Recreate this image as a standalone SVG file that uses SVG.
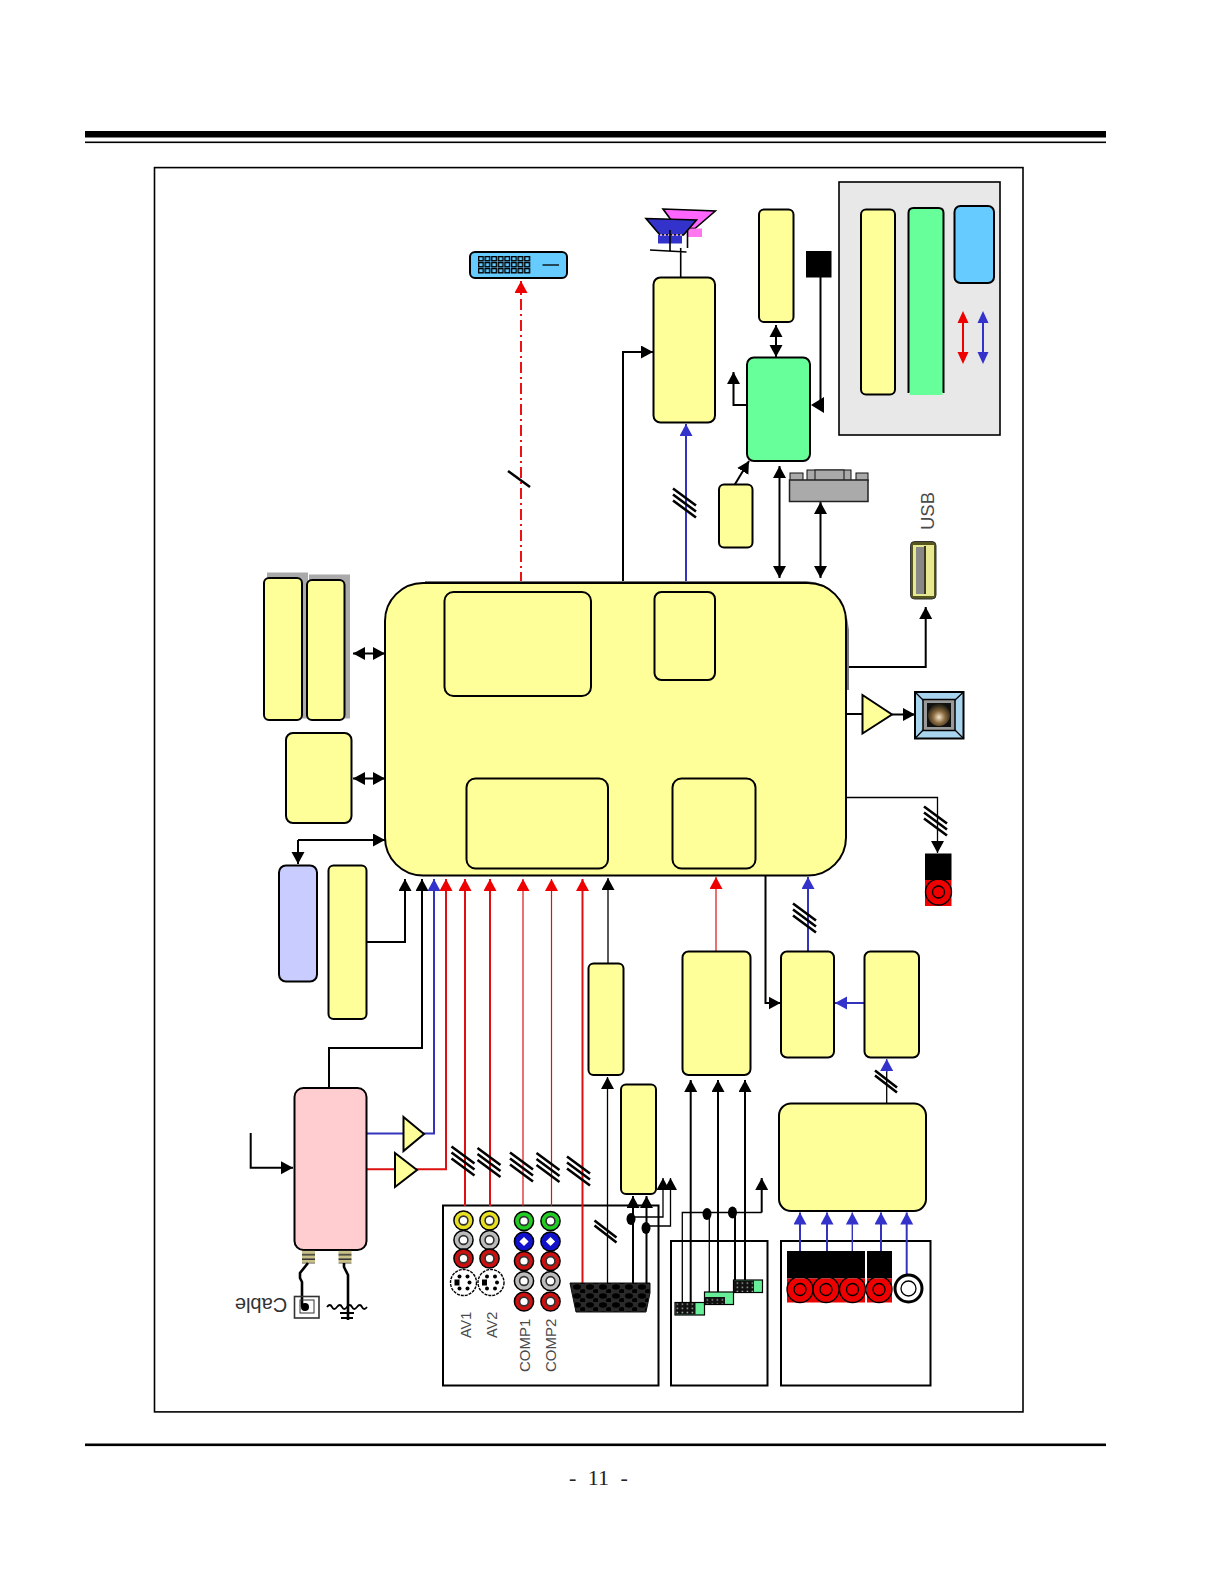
<svg xmlns="http://www.w3.org/2000/svg" width="1224" height="1584" viewBox="0 0 1224 1584">
<style>
.b{stroke:#000;stroke-width:2;}
.y{fill:#ffff99;stroke:#000;stroke-width:2;}
.g{fill:#66ff99;stroke:#000;stroke-width:2;}
.c{fill:none;stroke:#000;stroke-width:2;}
.t{fill:none;stroke:#000;stroke-width:1.3;}
.bl{fill:none;stroke:#3333bb;stroke-width:2;}
.r{fill:none;stroke:#dd1111;stroke-width:2;}
.rt{fill:none;stroke:#dd1111;stroke-width:1.2;}
.s{fill:none;stroke:#000;stroke-width:2.6;}
.box{fill:#fff;stroke:#000;stroke-width:2;}
.a{font-family:"Liberation Sans",Arial,sans-serif;fill:#4a4a4a;}
.ah{marker-end:url(#k);}
.ab{marker-end:url(#kb);}
.ar{marker-end:url(#kr);}
.dk{marker-start:url(#ks);marker-end:url(#k);}
</style>
<defs>
<marker id="k" markerUnits="userSpaceOnUse" markerWidth="14" markerHeight="14" refX="12" refY="6.5" orient="auto"><path d="M0 0L12 6.5L0 13Z" fill="#000"/></marker>
<marker id="ks" markerUnits="userSpaceOnUse" markerWidth="14" markerHeight="14" refX="0" refY="6.5" orient="auto"><path d="M12 0L0 6.5L12 13Z" fill="#000"/></marker>
<marker id="kb" markerUnits="userSpaceOnUse" markerWidth="14" markerHeight="14" refX="12" refY="6.5" orient="auto"><path d="M0 0L12 6.5L0 13Z" fill="#3333cc"/></marker>
<marker id="kr" markerUnits="userSpaceOnUse" markerWidth="14" markerHeight="14" refX="12" refY="6.5" orient="auto"><path d="M0 0L12 6.5L0 13Z" fill="#ee0000"/></marker>
<pattern id="pins" width="6.6" height="6" patternUnits="userSpaceOnUse" x="478" y="256"><rect x="0.6" y="0.6" width="4.6" height="4.2" fill="#66ccff" stroke="#000" stroke-width="1.4"/></pattern>
<pattern id="gpins" width="5" height="4.2" patternUnits="userSpaceOnUse"><rect width="5" height="4.2" fill="#111"/><rect x="1.6" y="1.4" width="1.6" height="1.4" fill="#9a9"/></pattern>
<pattern id="holes" width="13" height="9" patternUnits="userSpaceOnUse" x="572" y="1284"><rect width="13" height="9" fill="#2a2a2a"/><ellipse cx="5" cy="3" rx="4" ry="2.8" fill="#000"/><ellipse cx="11" cy="7.5" rx="3" ry="2.4" fill="#000"/></pattern>
<pattern id="coil" width="13" height="4.5" patternUnits="userSpaceOnUse"><rect width="13" height="4.5" fill="#c8c088"/><rect y="3" width="13" height="1.5" fill="#333"/></pattern>
<radialGradient id="ball" cx="0.5" cy="0.6" r="0.55"><stop offset="0" stop-color="#f5e8cc"/><stop offset="0.5" stop-color="#8a6a40"/><stop offset="1" stop-color="#2a2416"/></radialGradient>
<g id="slash3"><path class="s" d="M-12 -14L11 3M-12 -8L11 9M-12 -2L11 15" transform="translate(0 -.5)"/></g>
<g id="slash2"><path class="s" d="M-11 -11L11 6M-11 -6L11 11"/></g>
<g id="jackY"><circle r="9.6" fill="#e8e020" stroke="#000" stroke-width="1.5"/><circle r="4.4" fill="#fff" stroke="#333" stroke-width="1.6"/></g>
<g id="jackW"><circle r="9.6" fill="#bbb" stroke="#000" stroke-width="1.5"/><circle r="4.4" fill="#fff" stroke="#333" stroke-width="1.6"/></g>
<g id="jackR"><circle r="9.6" fill="#cc1111" stroke="#000" stroke-width="1.5"/><circle r="4.4" fill="#fff" stroke="#333" stroke-width="1.6"/></g>
<g id="jackG"><circle r="9.6" fill="#22cc22" stroke="#000" stroke-width="1.5"/><circle r="4.4" fill="#fff" stroke="#333" stroke-width="1.6"/></g>
<g id="jackB"><circle r="9.6" fill="#1111cc" stroke="#000" stroke-width="1.5"/><path d="M0 -4.6L4.6 0L0 4.6L-4.6 0Z" fill="#fff"/></g>
<g id="din"><circle r="13" fill="#fff" stroke="#000" stroke-width="1.4" stroke-dasharray="3 1"/><circle cx="-4" cy="-6" r="2" fill="#000"/><circle cx="4" cy="-6" r="2" fill="#000"/><circle cx="-4" cy="6" r="2" fill="#000"/><circle cx="4" cy="6" r="2" fill="#000"/><circle cx="6" cy="0" r="2" fill="#000"/><rect x="-9" y="-3" width="5" height="6" fill="#000"/></g>
<g id="rca"><circle r="13" fill="none" stroke="#000" stroke-width="1.3"/><circle r="6" fill="none" stroke="#000" stroke-width="1.3"/></g>
</defs>

<g id="page">
<rect width="1224" height="1584" fill="#fff"/>
<rect x="85" y="131" width="1021" height="6.5" fill="#000"/>
<rect x="85" y="141.5" width="1021" height="1.6" fill="#000"/>
<rect x="85" y="1443.5" width="1021" height="2.6" fill="#000"/>
<rect x="154.5" y="167.6" width="868.5" height="1244.3" fill="#fff" stroke="#000" stroke-width="1.6"/>
<text x="569" y="1485" font-family="'Liberation Serif',serif" font-size="22" word-spacing="6" fill="#222">- 11 -</text>
</g>

<g id="legend-panel">
<rect x="839" y="182" width="161" height="253" fill="#e8e8e8" stroke="#000" stroke-width="1.6"/>
<rect class="y" x="861" y="209.500" width="34" height="185" rx="5"/>
<path d="M908.500 393V213q0-5 5-5h25q5 0 5 5V393" fill="#66ff99" stroke="#000" stroke-width="2"/>
<path d="M909.600 392h32.800v3h-32.800Z" fill="#66ff99"/>
<rect x="954.500" y="206" width="39.500" height="77" rx="6" fill="#66ccff" stroke="#000" stroke-width="2"/>
<path d="M963 322V353" stroke="#ee0000" stroke-width="2" fill="none"/>
<path d="M983 322V353" stroke="#3333cc" stroke-width="2" fill="none"/>
<path d="M963 311L968.500 323H957.500Z M963 364L968.500 352H957.500Z" fill="#ee0000"/>
<path d="M983 311L988.500 323H977.500Z M983 364L988.500 352H977.500Z" fill="#3333cc"/>
</g>

<g id="input-boxes">
<rect class="box" x="443" y="1205.500" width="215.500" height="180"/>
<rect class="box" x="671" y="1241" width="96.500" height="144.500"/>
<rect class="box" x="781" y="1241" width="149.500" height="144.500"/>
</g>

<g id="connectors">
<path class="r" d="M521 583V281" stroke-dasharray="11 4 2 4" style="stroke:#ee1111" marker-end="url(#kr)"/>
<path class="s" d="M508 471L530 487"/>
<path class="c ah" d="M623 582V352H653"/>
<path class="bl ab" d="M686 582V424"/>
<use href="#slash3" x="685" y="503"/>
<path class="b dk" fill="none" d="M776 325V357"/>
<path class="c ah" d="M747 405H733.500V372"/>
<path class="c" d="M820.500 277V400"/>
<path d="M811 405L824 397V413Z" fill="#000"/>
<path class="c ah" d="M734.500 485L749 461"/>
<path class="c dk" d="M779.500 466V578"/>
<path class="c dk" d="M820.500 502V578"/>
<path class="c ah" d="M847 667H925.700V607"/>
<path class="c" d="M847 714H862"/>
<path class="c ah" d="M892 714.500H915"/>
<path class="t ah" d="M847 797.500H937.500V853"/>
<use href="#slash3" x="936" y="821"/>
<path class="c dk" d="M353 653.500H385"/>
<path class="c dk" d="M353 778.500H385"/>
<path class="c ah" d="M298 840H385"/>
<path class="c ah" d="M298 840V864"/>
<path class="c ah" d="M367 942H405V879"/>
<path class="c ah" d="M329 1088V1048H422V879"/>
<path class="bl ab" d="M367 1133.500H434V879"/>
<path class="r" d="M367 1169.300H446V879" marker-end="url(#kr)"/>
<path class="r" d="M465 1206V879" marker-end="url(#kr)"/>
<path class="r" d="M490 1206V879" marker-end="url(#kr)"/>
<path class="rt" d="M523 1206V879" marker-end="url(#kr)"/>
<path class="rt" d="M551.500 1206V879" marker-end="url(#kr)"/>
<path class="r" d="M582.500 1283V879" marker-end="url(#kr)"/>
<use href="#slash3" x="463.500" y="1161"/>
<use href="#slash3" x="489.500" y="1162.500"/>
<use href="#slash3" x="522" y="1167"/>
<use href="#slash3" x="548.500" y="1167.500"/>
<use href="#slash3" x="579" y="1171"/>
<path class="t ah" d="M608 963V878"/>
<path class="t ah" d="M607.500 1283V1077"/>
<use href="#slash2" x="605.500" y="1231.500"/>
<path class="c ah" d="M633 1283V1196"/>
<path class="c ah" d="M646.500 1283V1196"/>
<path class="t ah" d="M631 1217H663V1178"/>
<path class="t ah" d="M646 1226H670.500V1178"/>
<ellipse cx="631" cy="1219" rx="4.500" ry="6"/>
<ellipse cx="646" cy="1228" rx="4.500" ry="6"/>
<path class="c ah" d="M690.700 1303V1080"/>
<path class="c ah" d="M718 1292V1080"/>
<path class="c ah" d="M745 1280V1080"/>
<path class="t" d="M682.300 1303V1212.500H761.700"/>
<path class="c ah" d="M761.700 1212.500V1178"/>
<path class="t" d="M709.300 1292V1214"/>
<path class="c" d="M735 1280V1214"/>
<ellipse cx="707" cy="1214" rx="4.500" ry="6"/>
<ellipse cx="732.500" cy="1212.500" rx="4.500" ry="6"/>
<path class="rt" d="M716 951V877" marker-end="url(#kr)"/>
<path class="c ah" d="M765.500 876V1003H780.500"/>
<path class="bl ab" d="M808 951V877"/>
<use href="#slash3" x="805" y="918"/>
<path class="bl ab" d="M864.500 1003H835"/>
<path class="t" d="M886.700 1103V1070"/>
<path class="bl ab" d="M886.700 1072V1059" style="stroke-width:1.3"/>
<use href="#slash2" x="886" y="1081.500"/>
<path class="bl ab" d="M800 1252V1212.500"/>
<path class="bl ab" d="M827 1252V1212.500"/>
<path class="bl ab" d="M852.300 1252V1212.500" style="stroke-width:1.4"/>
<path class="bl ab" d="M881 1252V1212.500"/>
<path class="bl ab" d="M906.700 1275V1212.500"/>
<path class="c" d="M250.700 1133V1167.700H293" marker-end="url(#k)"/>
</g>

<g id="main-chip">
<path d="M425 581H806Q844 583 849 630V690H845V625Q840 590 800 584H425Z" fill="#777"/>
<rect class="y" x="385" y="583" width="461" height="292.500" rx="38"/>
<rect class="y" x="444.500" y="592" width="146.500" height="104" rx="9"/>
<rect class="y" x="654.500" y="592" width="60.500" height="88" rx="7"/>
<rect class="y" x="466.500" y="778.500" width="141.500" height="90" rx="9"/>
<rect class="y" x="672.500" y="778.500" width="83" height="90" rx="9"/>
</g>

<g id="memory">
<rect x="267" y="572.500" width="41" height="146" fill="#aaa"/>
<rect class="y" x="264" y="578" width="38" height="142" rx="5"/>
<rect x="309" y="574.500" width="41" height="144" fill="#aaa"/>
<rect class="y" x="307" y="580" width="37.500" height="140" rx="5"/>
<rect class="y" x="286" y="733" width="65.500" height="90" rx="7"/>
</g>

<g id="left-blocks">
<rect x="279" y="865.500" width="38" height="116" rx="7" fill="#c8ccff" stroke="#000" stroke-width="2"/>
<rect class="y" x="328.500" y="865.500" width="38" height="153.500" rx="5"/>
</g>

<g id="tuner">
<rect x="294.500" y="1088" width="72" height="162" rx="9" fill="#ffccd0" stroke="#000" stroke-width="2"/>
<rect x="302" y="1250.500" width="13" height="13" fill="url(#coil)"/>
<rect x="338.500" y="1250.500" width="13" height="13" fill="url(#coil)"/>
<path class="s" d="M308 1263L300 1273V1278L302 1282V1307M344 1263V1267L348 1275V1320"/>
<rect x="294.500" y="1296.500" width="24.500" height="21.500" fill="none" stroke="#333" stroke-width="1.600"/>
<rect x="300" y="1300" width="14" height="13" fill="none" stroke="#333"/>
<circle cx="305" cy="1307" r="4"/>
<path class="t" d="M327 1307q3-4 5 0t5 0t5 0t5 0t5 0t5 0t5 0t5 0" style="stroke-width:1.800"/>
<path class="c" d="M340 1313H354M341 1318H353"/>
<text class="a" transform="rotate(180 261 1306)" x="261" y="1314" text-anchor="middle" font-size="20" style="fill:#333">Cable</text>
</g>

<g id="amps">
<path class="y" d="M403.500 1117L424 1134L403.500 1151Z"/>
<path class="y" d="M395 1153L417 1170L395 1187Z"/>
<path class="y" d="M862.500 695L892 714.500L862.500 733.500Z"/>
</g>

<g id="av-jacks">
<use href="#jackY" x="463.500" y="1220.500"/><use href="#jackW" x="463.500" y="1240"/><use href="#jackR" x="463.500" y="1258.500"/><use href="#din" x="463.500" y="1282.500"/>
<use href="#jackY" x="489.500" y="1220.500"/><use href="#jackW" x="489.500" y="1240"/><use href="#jackR" x="489.500" y="1258.500"/><use href="#din" x="491" y="1282.500"/>
<use href="#jackG" x="524" y="1221"/><use href="#jackB" x="524" y="1241.500"/><use href="#jackR" x="524" y="1261"/><use href="#jackW" x="524" y="1281"/><use href="#jackR" x="524" y="1301.500"/>
<use href="#jackG" x="550.500" y="1221"/><use href="#jackB" x="550.500" y="1241.500"/><use href="#jackR" x="550.500" y="1261"/><use href="#jackW" x="550.500" y="1281"/><use href="#jackR" x="550.500" y="1301.500"/>
<text class="a" transform="rotate(-90 471 1338)" x="471" y="1338" font-size="14.500">AV1</text>
<text class="a" transform="rotate(-90 497 1338)" x="497" y="1338" font-size="14.500">AV2</text>
<text class="a" transform="rotate(-90 529.500 1372)" x="529.500" y="1372" font-size="15">COMP1</text>
<text class="a" transform="rotate(-90 556 1372)" x="556" y="1372" font-size="15">COMP2</text>
</g>

<g id="scart">
<path d="M570 1283H650V1293L646 1312H576L572 1293Z" fill="url(#holes)" stroke="#111"/>
</g>

<g id="sub-blocks">
<rect class="y" x="588.500" y="963.500" width="35" height="111.500" rx="5"/>
<rect class="y" x="621" y="1084.500" width="35" height="109.500" rx="5"/>
<rect class="y" x="682.500" y="951.500" width="68" height="123.500" rx="6"/>
<rect class="y" x="781" y="951.500" width="53" height="106" rx="6"/>
<rect class="y" x="864.500" y="951.500" width="54.500" height="106" rx="6"/>
<rect class="y" x="779" y="1103.500" width="147" height="107.500" rx="12"/>
</g>

<g id="hdmi-ports">
<rect x="675" y="1302.500" width="29.500" height="12.500" fill="#66ee99" stroke="#000" stroke-width="1.200"/>
<rect x="675.500" y="1303" width="20" height="11.500" fill="url(#gpins)"/>
<rect x="704.500" y="1292" width="29" height="12.500" fill="#66ee99" stroke="#000" stroke-width="1.200"/>
<rect x="705" y="1297" width="20" height="7" fill="url(#gpins)"/>
<rect x="733.500" y="1280" width="29" height="12.500" fill="#66ee99" stroke="#000" stroke-width="1.200"/>
<rect x="734" y="1280.500" width="20" height="11.500" fill="url(#gpins)"/>
</g>

<g id="side-jacks">
<rect x="787" y="1251" width="78" height="27.500" fill="#000"/>
<rect x="787" y="1278.500" width="78" height="24" fill="#ee0000"/>
<rect x="867" y="1251" width="25" height="27.500" fill="#000"/>
<rect x="867" y="1278.500" width="25" height="24" fill="#ee0000"/>
<use href="#rca" x="800" y="1289.500"/><use href="#rca" x="826" y="1289.500"/><use href="#rca" x="852.500" y="1289.500"/><use href="#rca" x="879" y="1289.500"/>
<circle cx="908.500" cy="1288.500" r="13.500" fill="#fff" stroke="#000" stroke-width="3"/>
<circle cx="908.500" cy="1288.500" r="7.500" fill="#fff" stroke="#000" stroke-width="1.300"/>
</g>

<g id="spdif">
<rect x="925" y="853.500" width="26.500" height="26.500" fill="#000"/>
<rect x="925" y="880" width="26.500" height="26" fill="#ee0000"/>
<use href="#rca" x="938.500" y="892"/>
</g>

<g id="speaker">
<rect x="915" y="692" width="48.500" height="46.500" fill="#a8d4ee" stroke="#000" stroke-width="2"/>
<path class="t" d="M915 692L925 702M963.500 692L953 702M915 738.500L925 728M963.500 738.500L953 728"/>
<rect x="923" y="699.500" width="32" height="31" fill="#999" stroke="#000" stroke-width="1.500"/>
<rect x="927" y="703" width="24" height="24" fill="#111"/>
<circle cx="939" cy="715" r="11" fill="url(#ball)"/>
</g>

<g id="usb-port">
<rect x="910.500" y="541.500" width="25.500" height="57.500" rx="4" fill="#55551f" stroke="#333" stroke-width="1"/>
<rect x="913" y="545" width="21" height="51" fill="#e8e890"/>
<rect x="916" y="547" width="8" height="47" fill="#888"/>
<path d="M925 546V594" stroke="#000" stroke-width="1.500"/>
<text class="a" transform="rotate(-90 934 530)" x="934" y="530" font-size="18.500">USB</text>
</g>

<g id="dvi-connector">
<rect x="470" y="252" width="97" height="26" rx="5" fill="#66ccff" stroke="#000" stroke-width="2"/>
<rect x="478" y="256" width="52.800" height="18" fill="url(#pins)"/>
<path class="t" d="M542.500 265H559"/>
</g>

<g id="panel-block">
<rect class="y" x="653.500" y="277.500" width="61.500" height="145" rx="7"/>
<path d="M663 209L715.300 211L695 228.500L677 228Z" fill="#ff66ff" stroke="#000" stroke-width="1.600"/>
<rect x="687" y="228.500" width="15" height="8.500" fill="#ff77ee"/>
<path d="M646 218.500L696.500 220L683.500 235H660Z" fill="#3333cc" stroke="#000" stroke-width="1.600"/>
<rect x="658" y="235" width="24" height="8.500" fill="#3333cc"/>
<path d="M660 235H684" stroke="#fcc" stroke-width="1.500" stroke-dasharray="2 2" fill="none"/>
<path class="c" d="M650 250L686.500 252M670 230V252M687.500 230V248M680.700 248V277.500" style="stroke-width:1.600"/>
</g>

<g id="hdmi-switch">
<rect class="y" x="759" y="209.500" width="34.500" height="112.500" rx="5"/>
<rect class="g" x="747" y="357.500" width="63" height="103.500" rx="7"/>
<rect class="y" x="719" y="484.500" width="33.500" height="63" rx="5"/>
<rect x="806" y="251" width="25.500" height="26.500" fill="#000"/>
</g>

<g id="rgb-port">
<rect x="790" y="473" width="13" height="8" fill="#aaa" stroke="#111"/>
<rect x="807" y="470" width="44" height="11" fill="#aaa" stroke="#111"/>
<rect x="815" y="470" width="29" height="11" fill="#aaa" stroke="#111"/>
<rect x="856" y="473" width="12" height="8" fill="#aaa" stroke="#111"/>
<rect x="789.500" y="480" width="78.500" height="21.500" fill="#aaa" stroke="#222" stroke-width="1.500"/>
</g>
</svg>
